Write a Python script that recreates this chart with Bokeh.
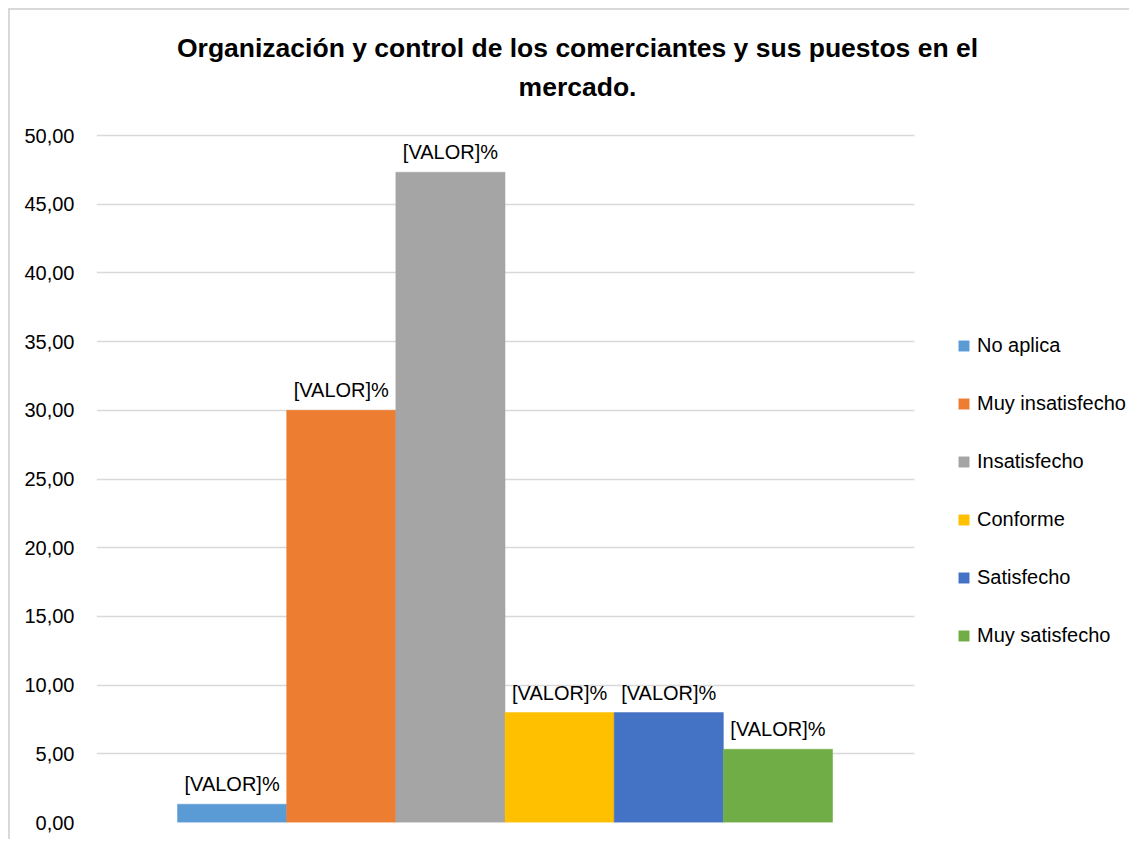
import numpy as np
from bokeh.plotting import figure
from bokeh.models import (ColumnDataSource, Range1d, FixedTicker, Label,
                          Legend, LegendItem, LabelSet)
from bokeh.core.properties import value
from bokeh.embed import file_html
from bokeh.resources import INLINE

# ---- data ----
categories = ["No aplica", "Muy insatisfecho", "Insatisfecho",
              "Conforme", "Satisfecho", "Muy satisfecho"]
values = [1.33, 30.00, 47.33, 8.00, 8.00, 5.33]
colors = ["#5B9BD5", "#ED7D31", "#A5A5A5", "#FFC000", "#4472C4", "#70AD47"]
bar_labels = ["[VALOR]%"] * len(categories)
y_ticks = [0, 5, 10, 15, 20, 25, 30, 35, 40, 45, 50]
y_tick_labels = ["0,00", "5,00", "10,00", "15,00", "20,00", "25,00",
                 "30,00", "35,00", "40,00", "45,00", "50,00"]
title_lines = ["Organización y control de los comerciantes y sus puestos en el",
               "mercado."]

FONT = "'Liberation Sans', Arial, sans-serif"

# frame in data units: bars span -0.5..5.5; frame also holds title and legend
X0, X1 = -1.242, 8.22
GRID_X = (-1.242, 6.251)    # extent of the grid lines
Y_TOP = 59.83

p = figure(width=1129, height=839, output_backend="svg", toolbar_location=None,
           x_range=Range1d(X0, X1), y_range=Range1d(0, Y_TOP),
           x_axis_location=None,
           min_border_left=96, min_border_right=0,
           min_border_top=0, min_border_bottom=17)
p.outline_line_color = None
p.border_fill_alpha = 0
p.background_fill_alpha = 0
p.styles = {
    "background": ("linear-gradient(#d9d9d9,#d9d9d9) 8px 8px / 2px 100% no-repeat, "
                   "linear-gradient(#d9d9d9,#d9d9d9) 8px 8px / 100% 2px no-repeat, "
                   "#ffffff"),
}
p.xgrid.visible = False
p.ygrid.ticker = FixedTicker(ticks=y_ticks)
p.ygrid.grid_line_color = "#d9d9d9"
p.ygrid.grid_line_width = 1.5
p.ygrid.cross_bounds = GRID_X

ax = p.yaxis[0]
ax.ticker = FixedTicker(ticks=y_ticks)
ax.major_label_overrides = dict(zip(y_ticks, y_tick_labels))
ax.axis_line_color = None
ax.major_tick_line_color = None
ax.minor_tick_line_color = None
ax.major_tick_out = 0
ax.major_tick_in = 0
ax.major_label_standoff = 22
ax.major_label_text_font = FONT
ax.major_label_text_font_size = "20px"
ax.major_label_text_color = "#000000"

src = ColumnDataSource(dict(x=np.arange(len(categories)), top=values,
                            cat=categories, color=colors, lab=bar_labels))
r = p.vbar(x="x", top="top", width=1.0, fill_color="color", line_color="color",
           line_width=0.5, source=src)

labels = LabelSet(x="x", y="top", text="lab", source=src, text_align="center",
                  text_baseline="bottom", y_offset=9,
                  text_font=value(FONT), text_font_size="20px", text_color="#000000")
p.add_layout(labels)

legend = Legend(items=[LegendItem(label=c, renderers=[r], index=i)
                       for i, c in enumerate(categories)],
                location=(861, 175), orientation="vertical",
                glyph_width=13, glyph_height=13, label_height=13,
                label_standoff=7, spacing=35, padding=0, margin=0,
                border_line_color=None, background_fill_alpha=0,
                label_text_font=FONT, label_text_font_size="20px",
                label_text_color="#000000")
p.add_layout(legend)

title_y = [56.34, 53.50]
for line, ty in zip(title_lines, title_y):
    p.add_layout(Label(x=3.164, y=ty, text=line, text_align="center",
                       text_baseline="middle", text_font=FONT,
                       text_font_size="26.5px", text_font_style="bold",
                       text_color="#000000"))

open("out.html", "w").write(file_html(p, INLINE))
